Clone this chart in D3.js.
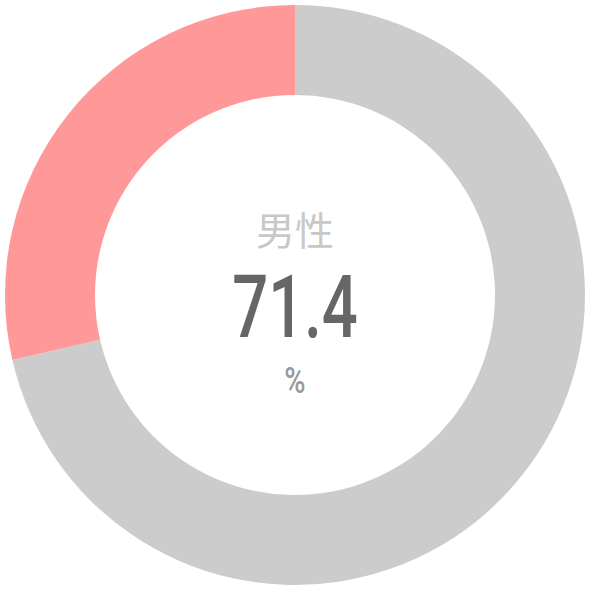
<!DOCTYPE html>
<html>
<head>
<meta charset="utf-8">
<script src="https://cdn.jsdelivr.net/npm/d3@7"></script>
<style>
  body { margin: 0; background: #fff; }
</style>
</head>
<body>
<svg width="590" height="590"></svg>
<script>
const categories = ['男性', '女性'];
const values = [71.4, 28.6];
const colors = ['#cccccc', '#ff9999'];

const svg = d3.select('svg');
const width = +svg.attr('width');
const height = +svg.attr('height');
const cx = 295, cy = 295;
const outerR = 290;
const innerR = 200;

const g = svg.append('g').attr('transform', `translate(${cx},${cy})`);

const pie = d3.pie().sort(null).value(d => d);
const arc = d3.arc().innerRadius(innerR).outerRadius(outerR);

g.selectAll('.slice')
  .data(pie(values))
  .enter()
  .append('path')
  .attr('class', 'slice')
  .attr('d', arc)
  .attr('fill', (d, i) => colors[i]);

// centre label: first category
g.append('text')
  .attr('text-anchor', 'middle')
  .attr('y', -50)
  .attr('font-family', '"Noto Sans CJK JP", sans-serif')
  .attr('font-size', 39)
  .attr('fill', '#c8c8c8')
  .text(categories[0]);

g.append('text')
  .attr('text-anchor', 'middle')
  .attr('transform', 'translate(0,42) scale(0.72,1)')
  .attr('font-family', 'Roboto, sans-serif')
  .attr('font-weight', 500)
  .attr('font-size', 88)
  .attr('fill', '#666666')
  .text(values[0].toFixed(1));

g.append('text')
  .attr('text-anchor', 'middle')
  .attr('transform', 'translate(0,98) scale(0.78,1)')
  .attr('font-family', 'Roboto, sans-serif')
  .attr('font-weight', 500)
  .attr('font-size', 37)
  .attr('fill', '#999999')
  .text('%');
</script>
</body>
</html>
